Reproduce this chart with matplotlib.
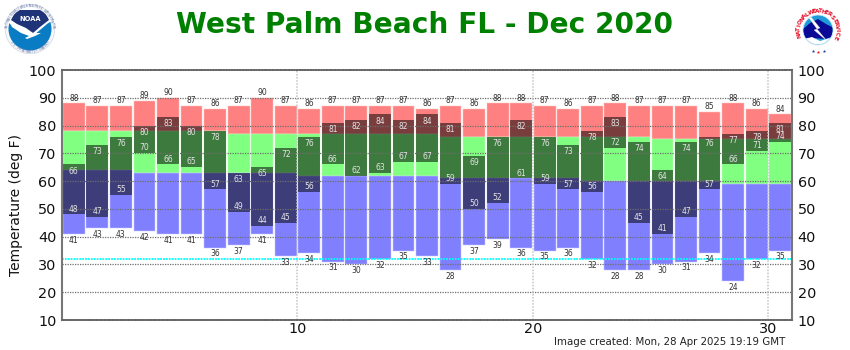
import numpy as np
import matplotlib
matplotlib.use("Agg")
import matplotlib.pyplot as plt
from matplotlib.patches import Circle, Polygon

days = list(range(1, 32))
record_high = [88,87,87,89,90,87,86,87,90,87,86,87,87,87,87,86,87,86,88,88,87,86,87,88,87,87,87,85,88,86,84]
normal_high = [78,78,78,78,78,78,78,77,77,77,77,77,77,77,77,77,76,76,76,76,76,76,76,76,76,75,75,75,75,75,75]
normal_low  = [64,64,64,63,63,63,63,63,63,63,62,62,62,62,62,62,61,61,61,61,61,61,60,60,60,60,60,60,59,59,59]
record_low  = [41,43,43,42,41,41,36,37,41,33,34,31,30,32,35,33,28,37,39,36,35,36,32,28,28,30,31,34,24,32,35]
obs_high    = [66,73,76,80,83,80,78,63,65,72,76,81,82,84,82,84,81,69,76,82,76,73,78,83,74,64,74,76,77,78,81]
obs_low     = [48,47,55,70,66,65,57,49,44,45,56,66,62,63,67,67,59,50,52,61,59,57,56,72,45,41,47,57,66,71,74]
y_ticks = [10,20,30,40,50,60,70,80,90,100]
x_ticks = [10,20,30]
freezing = 32
title = "West Palm Beach FL - Dec 2020"
stamp = "Image created: Mon, 28 Apr 2025 19:19 GMT"

W, H = 850, 350
fig = plt.figure(figsize=(W/100, H/100), dpi=100, facecolor="white")
L, R, T, B = 62, 792, 70, 320
ax = fig.add_axes([L/W, 1-B/H, (R-L)/W, (B-T)/H])
ax.set_xlim(0, 31)
ax.set_ylim(10, 100)

x = np.array(days) - 0.5
rh, nh, nl, rl = map(np.array, (record_high, normal_high, normal_low, record_low))
oh, ol = np.array(obs_high), np.array(obs_low)
bw = 0.925
ax.bar(x, rh-nh, bottom=nh, width=bw, color="#FF8080", edgecolor="#FFC4C4", linewidth=0.35, zorder=2)
ax.bar(x, nh-nl, bottom=nl, width=bw, color="#80FF80", edgecolor="#C4FFC4", linewidth=0.35, zorder=2)
ax.bar(x, nl-rl, bottom=rl, width=bw, color="#8080FF", edgecolor="#C8C8FF", linewidth=0.35, zorder=2)
ax.bar(x, oh-ol, bottom=ol, width=bw, color=(0, 0, 0, 0.52), linewidth=0, zorder=3)

for t in y_ticks[1:-1]:
    ax.axhline(t, color="#6e6e6e", lw=0.9, ls=(0, (1, 1)), zorder=4)
for t in x_ticks:
    ax.axvline(t, color="#c4c4c4", lw=1.1, ls=(0, (1, 1)), zorder=4)
ax.axhline(freezing, color="#00FFFF", lw=1.3, ls=(0, (1, 0.6)), zorder=5)

fs = 5.5
for xi, a, b, c, d in zip(x, rh, rl, oh, ol):
    ax.text(xi, a+0.25, str(a), ha="center", va="bottom", fontsize=fs, color="#333333", zorder=6)
    ax.text(xi, b-0.6, str(b), ha="center", va="top", fontsize=fs, color="#333333", zorder=6)
    ax.text(xi, c-0.8, str(c), ha="center", va="top", fontsize=fs, color="#E4E4E4", zorder=6)
    ax.text(xi, d+0.3, str(d), ha="center", va="bottom", fontsize=fs, color="#E4E4E4", zorder=6)

for s in ax.spines.values():
    s.set_zorder(7)
ax.spines["left"].set(color="#777777", linewidth=1.5)
ax.spines["right"].set(color="#777777", linewidth=1.5)
ax.spines["bottom"].set(color="#666666", linewidth=1.3, linestyle=(0, (1, 0.5)))
ax.spines["top"].set(color="#666666", linewidth=1.3, linestyle=(0, (1, 0.5)))

ax.set_yticks(y_ticks)
ax.set_xticks(x_ticks)
ax.tick_params(axis="both", length=0, labelsize=10.4, labelcolor="#111111", pad=4)
ax.tick_params(axis="y", right=True, labelright=True, length=0, pad=4)
ax.tick_params(axis="x", pad=1.5)

fig.text(16/W, 1-205/H, "Temperature (deg F)", rotation=90, ha="center", va="center",
         fontsize=10, color="#111111")
fig.text(425/W, 1-25/H, title, ha="center", va="center", fontsize=20.2,
         fontweight="bold", color="#008000")
fig.text(670/W, 1-342/H, stamp, ha="center", va="center", fontsize=7.35, color="#222222")

# logos, in pixel coordinates
ov = fig.add_axes([0, 0, 1, 1], facecolor="none", zorder=10)
ov.set_xlim(0, W); ov.set_ylim(H, 0); ov.axis("off")

def ring_text(s, cx, cy, r, start, stop, **kw):
    for ch, ang in zip(s, np.linspace(start, stop, len(s))):
        a = np.radians(ang)
        rot = ang - 90 if np.sin(a) > -0.5 else ang + 90
        ov.text(cx + r*np.cos(a), cy - r*np.sin(a), ch, rotation=rot, rotation_mode="anchor",
                ha="center", va="center", **kw)

# NOAA
cx, cy = 30, 29
ov.add_patch(Circle((cx, cy), 24.8, fc="#F4F6FA", ec="#C8D0E0", lw=0.4))
inner = Circle((cx, cy), 21.5, fc="white", ec="none")
ov.add_patch(inner)
lower = Polygon([(7,22),(14,26),(24,33),(34,35),(47,24),(53,20),(53,55),(7,55)], fc="#0A7CC4", ec="none")
ov.add_patch(lower); lower.set_clip_path(inner)
upper = Polygon([(11,20),(17,24),(26,28),(33,33),(40,27),(49,20),(44,10),(16,10)], fc="#1F3478", ec="none")
ov.add_patch(upper); upper.set_clip_path(inner)
bird = Polygon([(8,20),(17,25),(26,31),(33,33),(41,33),(35,36),(27,39),(25,38),(29,36),(21,33),(12,27)], fc="white", ec="none")
ov.add_patch(bird); bird.set_clip_path(inner)
ov.text(30, 19, "NOAA", ha="center", va="center", fontsize=4.8, fontweight="bold", color="white")
ring_text("NATIONAL OCEANIC AND ATMOSPHERIC ADMINISTRATION", cx, cy, 23, 175, 5, fontsize=1.9, color="#6A78A8")
ring_text("U.S. DEPARTMENT OF COMMERCE", cx, cy, 23, 215, 325, fontsize=1.9, color="#6A78A8")

# NWS
cx, cy = 818, 30
ov.add_patch(Circle((cx, cy), 15, fc="#1E9BD8", ec="#CCE8F4", lw=0.6))
inner2 = Circle((cx, cy), 14.5, fc="none", ec="none")
ov.add_patch(inner2)
navy = Polygon([(802,30),(810,23),(818,19),(826,24),(834,28),(835,36),(825,39),(812,38),(803,38)], fc="#0A0A96", ec="none")
ov.add_patch(navy); navy.set_clip_path(inner2)
white = Polygon([(804,39),(812,37),(820,41),(830,38),(834,37),(828,45),(810,45)], fc="white", ec="none")
ov.add_patch(white); white.set_clip_path(inner2)
bolt = Polygon([(811,17),(820,28),(817,29),(827,41),(814,30),(817,29),(809,18)], fc="white", ec="#DDDDDD", lw=0.2)
ov.add_patch(bolt)
ring_text("NATIONAL", cx, cy, 19, 197, 125, fontsize=4.2, fontweight="bold", color="#E8102A")
ring_text("WEATHER", cx, cy, 19, 110, 55, fontsize=4.2, fontweight="bold", color="#E8102A")
ring_text("SERVICE", cx, cy, 19, 40, -22, fontsize=4.2, fontweight="bold", color="#E8102A")
for px, py, col in [(813.5, 50.5, "#1E3C9C"), (818.5, 51.5, "#E8102A"), (824, 50.5, "#1E3C9C")]:
    ov.plot([px], [py], marker="*", ms=2.6, color=col, mew=0)

fig.savefig("out.png", dpi=100, facecolor="white")
